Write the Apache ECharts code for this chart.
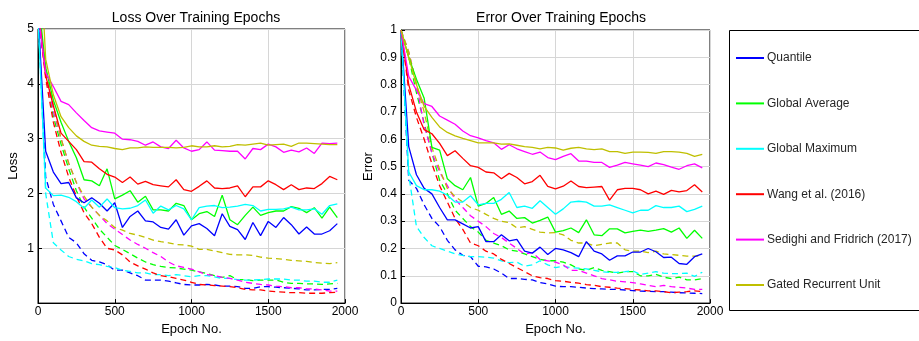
<!DOCTYPE html>
<html>
<head>
<meta charset="utf-8">
<script src="https://cdn.jsdelivr.net/npm/echarts@6/dist/echarts.min.js"></script>
<style>html,body{margin:0;padding:0;background:#fff}#c{width:919px;height:341px}</style>
</head>
<body>
<div id="c"></div>
<script>
const epochs = [0,50,100,150,200,250,300,350,400,450,500,550,600,650,700,750,800,850,900,950,1000,1050,1100,1150,1200,1250,1300,1350,1400,1450,1500,1550,1600,1650,1700,1750,1800,1850,1900,1950];
const names = ['Quantile','Global Average','Global Maximum','Wang et al. (2016)','Sedighi and Fridrich (2017)','Gated Recurrent Unit'];
const colors = ['#0000ff','#00ff00','#00ffff','#ff0000','#ff00ff','#bfbf00'];

// Loss - validation (solid)
const lossQuantileVal = [5.3,2.77,2.39,2.18,2.2,1.92,1.83,1.92,1.82,1.68,1.83,1.38,1.58,1.68,1.5,1.48,1.38,1.35,1.52,1.24,1.41,1.45,1.36,1.23,1.63,1.4,1.34,1.16,1.47,1.23,1.49,1.38,1.56,1.43,1.26,1.39,1.26,1.26,1.32,1.45];
const lossGlobalAvgVal = [5.6,4.3,3.7,3.3,2.95,2.65,2.25,2.23,2.14,2.45,1.9,1.97,2.05,1.84,1.95,1.7,1.7,1.68,1.82,1.78,1.52,1.63,1.67,1.58,1.97,1.52,1.43,1.6,1.75,1.6,1.65,1.68,1.68,1.76,1.73,1.65,1.74,1.55,1.75,1.56];
const lossGlobalMaxVal = [5.2,2.1,1.96,1.97,1.93,1.85,1.73,1.88,1.75,1.9,1.74,1.72,1.73,1.78,1.88,1.64,1.77,1.7,1.78,1.72,1.52,1.74,1.77,1.78,1.74,1.75,1.77,1.8,1.78,1.68,1.71,1.71,1.72,1.75,1.7,1.7,1.72,1.62,1.78,1.81];
const lossWangVal = [5.4,4.15,3.6,3.1,2.95,2.8,2.58,2.57,2.45,2.35,2.3,2.2,2.3,2.17,2.22,2.16,2.14,2.12,2.25,2.07,2.04,2.13,2.23,2.1,2.09,2.1,2.14,1.94,2.12,2.12,2.23,2.16,2.07,2.16,2.07,2.1,2.09,2.18,2.31,2.25];
const lossSedighiVal = [5.3,4.2,3.95,3.68,3.62,3.47,3.33,3.2,3.14,3.12,3.1,2.99,2.98,2.95,2.88,2.94,2.85,2.82,2.97,2.83,2.77,2.8,2.94,2.79,2.78,2.77,2.77,2.63,2.82,2.8,2.9,2.85,2.75,2.79,2.76,2.83,2.73,2.92,2.91,2.92];
const lossGruVal = [7.2,4.45,3.8,3.4,3.2,3.05,2.95,2.88,2.86,2.85,2.82,2.8,2.83,2.83,2.85,2.84,2.84,2.84,2.83,2.84,2.87,2.85,2.85,2.87,2.85,2.86,2.89,2.88,2.9,2.92,2.88,2.89,2.9,2.86,2.92,2.92,2.91,2.9,2.89,2.89];

// Loss - training (dashed)
const lossQuantileTrain = [5.3,2.3,1.8,1.5,1.2,1.1,0.9,0.78,0.75,0.7,0.6,0.6,0.55,0.5,0.42,0.42,0.42,0.4,0.37,0.34,0.33,0.33,0.34,0.33,0.31,0.31,0.3,0.27,0.27,0.3,0.3,0.29,0.28,0.27,0.26,0.24,0.24,0.25,0.25,0.27];
const lossGlobalAvgTrain = [5.3,4.2,3.4,2.9,2.45,2.05,1.75,1.55,1.35,1.2,1.05,0.98,0.9,0.82,0.75,0.7,0.67,0.65,0.64,0.62,0.6,0.57,0.54,0.5,0.47,0.5,0.43,0.43,0.41,0.42,0.42,0.42,0.38,0.36,0.36,0.35,0.35,0.34,0.35,0.36];
const lossGlobalMaxTrain = [5.3,2.0,1.1,0.97,0.85,0.8,0.77,0.72,0.7,0.67,0.65,0.6,0.58,0.55,0.55,0.52,0.52,0.5,0.52,0.5,0.48,0.5,0.5,0.48,0.45,0.45,0.43,0.42,0.42,0.43,0.44,0.44,0.44,0.42,0.42,0.4,0.4,0.38,0.38,0.42];
const lossWangTrain = [5.3,4.1,3.3,2.75,2.3,1.95,1.65,1.45,1.2,1.0,0.97,0.88,0.75,0.68,0.62,0.55,0.5,0.48,0.45,0.42,0.38,0.34,0.33,0.32,0.31,0.3,0.28,0.25,0.24,0.24,0.22,0.21,0.2,0.19,0.19,0.18,0.18,0.18,0.19,0.2];
const lossSedighiTrain = [5.3,4.2,3.5,3.0,2.55,2.2,1.9,1.75,1.6,1.45,1.35,1.25,1.15,1.07,1.0,0.92,0.85,0.75,0.68,0.65,0.62,0.57,0.52,0.5,0.47,0.45,0.42,0.38,0.36,0.34,0.33,0.31,0.3,0.28,0.28,0.26,0.26,0.24,0.22,0.22];
const lossGruTrain = [5.3,4.3,3.6,3.0,2.55,2.2,1.95,1.75,1.6,1.5,1.38,1.33,1.27,1.24,1.2,1.15,1.12,1.1,1.07,1.06,1.04,0.98,0.98,0.95,0.92,0.89,0.88,0.88,0.87,0.84,0.82,0.81,0.8,0.78,0.77,0.76,0.74,0.73,0.72,0.74];

// Error - validation (solid)
const errQuantileVal = [1.0,0.573,0.47,0.42,0.4,0.35,0.305,0.305,0.29,0.275,0.28,0.225,0.225,0.25,0.228,0.233,0.19,0.183,0.205,0.178,0.2,0.195,0.185,0.17,0.225,0.19,0.18,0.157,0.173,0.173,0.187,0.187,0.2,0.188,0.167,0.168,0.145,0.142,0.17,0.18];
const errGlobalAvgVal = [1.0,0.9,0.82,0.75,0.57,0.56,0.455,0.43,0.415,0.46,0.355,0.365,0.387,0.325,0.337,0.31,0.313,0.293,0.303,0.315,0.26,0.265,0.275,0.258,0.305,0.25,0.247,0.272,0.272,0.257,0.263,0.267,0.263,0.267,0.273,0.26,0.275,0.237,0.267,0.237];
const errGlobalMaxVal = [1.0,0.48,0.43,0.415,0.415,0.41,0.395,0.37,0.37,0.393,0.36,0.365,0.365,0.38,0.405,0.35,0.355,0.347,0.375,0.35,0.325,0.345,0.37,0.373,0.37,0.355,0.355,0.36,0.35,0.34,0.33,0.34,0.34,0.357,0.35,0.35,0.355,0.335,0.343,0.355];
const errWangVal = [1.0,0.8,0.7,0.635,0.62,0.585,0.54,0.558,0.53,0.503,0.497,0.48,0.477,0.455,0.475,0.46,0.437,0.445,0.468,0.427,0.418,0.428,0.447,0.427,0.423,0.425,0.427,0.377,0.415,0.42,0.42,0.415,0.4,0.41,0.398,0.413,0.407,0.412,0.433,0.407];
const errSedighiVal = [1.0,0.83,0.78,0.73,0.72,0.685,0.67,0.655,0.63,0.613,0.605,0.595,0.587,0.563,0.58,0.565,0.555,0.545,0.553,0.533,0.525,0.537,0.547,0.52,0.52,0.515,0.515,0.497,0.505,0.515,0.51,0.505,0.5,0.513,0.507,0.498,0.49,0.503,0.51,0.495];
const errGruVal = [1.0,0.9,0.8,0.72,0.68,0.645,0.625,0.612,0.603,0.595,0.587,0.587,0.587,0.582,0.583,0.578,0.573,0.57,0.565,0.57,0.568,0.56,0.567,0.57,0.565,0.562,0.565,0.555,0.555,0.548,0.553,0.553,0.552,0.548,0.555,0.555,0.553,0.548,0.537,0.545];

// Error - training (dashed)
const errQuantileTrain = [1.0,0.45,0.42,0.36,0.31,0.28,0.23,0.195,0.175,0.17,0.135,0.133,0.125,0.11,0.09,0.09,0.087,0.085,0.075,0.07,0.062,0.06,0.06,0.058,0.055,0.053,0.052,0.05,0.05,0.048,0.046,0.044,0.043,0.042,0.042,0.04,0.038,0.037,0.036,0.035];
const errGlobalAvgTrain = [1.0,0.9,0.77,0.66,0.55,0.45,0.4,0.34,0.31,0.28,0.26,0.23,0.22,0.21,0.195,0.19,0.18,0.17,0.16,0.155,0.155,0.15,0.14,0.125,0.12,0.13,0.12,0.115,0.11,0.115,0.115,0.1,0.1,0.105,0.095,0.09,0.095,0.085,0.085,0.09];
const errGlobalMaxTrain = [1.0,0.47,0.28,0.24,0.21,0.2,0.19,0.18,0.175,0.17,0.17,0.168,0.165,0.155,0.148,0.15,0.135,0.14,0.155,0.14,0.13,0.135,0.13,0.128,0.125,0.12,0.115,0.112,0.113,0.115,0.118,0.105,0.11,0.115,0.11,0.108,0.108,0.11,0.098,0.113];
const errWangTrain = [1.0,0.78,0.68,0.6,0.51,0.43,0.37,0.31,0.27,0.22,0.21,0.19,0.18,0.16,0.145,0.13,0.115,0.1,0.093,0.09,0.082,0.08,0.076,0.073,0.068,0.065,0.06,0.058,0.055,0.053,0.05,0.048,0.045,0.045,0.042,0.038,0.04,0.042,0.045,0.042];
const errSedighiTrain = [1.0,0.92,0.8,0.65,0.55,0.48,0.43,0.38,0.35,0.32,0.3,0.28,0.255,0.24,0.22,0.2,0.18,0.185,0.16,0.155,0.15,0.14,0.12,0.12,0.11,0.1,0.09,0.085,0.08,0.078,0.075,0.07,0.065,0.06,0.065,0.06,0.058,0.055,0.05,0.05];
const errGruTrain = [1.0,0.92,0.8,0.7,0.57,0.49,0.42,0.39,0.37,0.35,0.34,0.325,0.31,0.3,0.295,0.275,0.28,0.27,0.26,0.257,0.258,0.25,0.23,0.22,0.22,0.21,0.215,0.22,0.22,0.195,0.19,0.19,0.185,0.19,0.18,0.178,0.175,0.172,0.172,0.172];

const lossVal = [lossQuantileVal,lossGlobalAvgVal,lossGlobalMaxVal,lossWangVal,lossSedighiVal,lossGruVal];
const lossTrain = [lossQuantileTrain,lossGlobalAvgTrain,lossGlobalMaxTrain,lossWangTrain,lossSedighiTrain,lossGruTrain];
const errVal = [errQuantileVal,errGlobalAvgVal,errGlobalMaxVal,errWangVal,errSedighiVal,errGruVal];
const errTrain = [errQuantileTrain,errGlobalAvgTrain,errGlobalMaxTrain,errWangTrain,errSedighiTrain,errGruTrain];

const FONT = 'Liberation Sans, Arial, sans-serif';
const chart = echarts.init(document.getElementById('c'), null, {renderer:'canvas'});

function mk(vals, i, gi, dashed){
  return {
    name: names[i], type:'line', xAxisIndex: gi, yAxisIndex: gi,
    data: epochs.map((e,k)=>[e, vals[k]]),
    showSymbol:false, symbol:'none', clip:true, silent:true,
    lineStyle:{color:colors[i], width:1.3, type: dashed ? [6,4] : 'solid'},
    itemStyle:{color:colors[i]},
    z: dashed ? 2 : 3
  };
}
const series = [];
for (let i=0;i<6;i++){ series.push(mk(lossTrain[i],i,0,true)); }
for (let i=0;i<6;i++){ series.push(mk(errTrain[i],i,1,true)); }
for (let i=0;i<6;i++){ series.push(mk(lossVal[i],i,0,false)); }
for (let i=0;i<6;i++){ series.push(mk(errVal[i],i,1,false)); }

function xAxis(gi){
  return {
    type:'value', gridIndex:gi, min:0, max:2000, interval:500,
    name:'Epoch No.', nameLocation:'middle', nameGap:17,
    nameTextStyle:{fontFamily:FONT, fontSize:13, color:'#000'},
    axisLine:{show:true, lineStyle:{color:'#000', width:1}},
    axisTick:{show:true, inside:true, length:4, lineStyle:{color:'#000'}},
    axisLabel:{fontFamily:FONT, fontSize:12, color:'#000', margin:3, formatter: v => String(v)},
    splitLine:{show:true, lineStyle:{color:'#d6d6d6', width:1}}
  };
}
function yAxis(gi, max, interval, name, gap, fmt){
  return {
    type:'value', gridIndex:gi, min:0, max:max, interval:interval,
    name:name, nameLocation:'middle', nameGap:gap, nameRotate:90,
    nameTextStyle:{fontFamily:FONT, fontSize:13, color:'#000'},
    axisLine:{show:true, onZero:false, lineStyle:{color:'#000', width:1}},
    axisTick:{show:true, inside:true, length:4, lineStyle:{color:'#000'}},
    axisLabel:{fontFamily:FONT, fontSize:12, color:'#000', margin:4, formatter:fmt},
    splitLine:{show:true, lineStyle:{color:'#d6d6d6', width:1}}
  };
}

chart.setOption({
  animation:false,
  backgroundColor:'#fff',
  title:[
    {text:'Loss Over Training Epochs', left:191, top:6, textAlign:'center',
     textStyle:{fontFamily:FONT, fontSize:14, fontWeight:'normal', color:'#000'}},
    {text:'Error Over Training Epochs', left:556, top:6, textAlign:'center',
     textStyle:{fontFamily:FONT, fontSize:14, fontWeight:'normal', color:'#000'}}
  ],
  grid:[
    {left:38, top:29, width:307, height:282, show:true, borderColor:'#000', borderWidth:1, backgroundColor:'transparent'},
    {left:401, top:30, width:309, height:281, show:true, borderColor:'#000', borderWidth:1, backgroundColor:'transparent'}
  ],
  xAxis:[xAxis(0), xAxis(1)],
  yAxis:[
    yAxis(0, 5, 1, 'Loss', 18, v => v===0 ? '' : String(v)),
    yAxis(1, 1, 0.1, 'Error', 26, v => String(Math.round(v*10)/10))
  ],
  legend:{
    data: names.map((n,i)=>({name:n, icon:'rect', itemStyle:{color:colors[i]}})),
    orient:'vertical', left:736, top:51, padding:0,
    itemWidth:28, itemHeight:2, itemGap:31.4,
    selectedMode:false,
    textStyle:{fontFamily:FONT, fontSize:12, color:'#262626', lineHeight:14, padding:[0,0,0,-2]}
  },
  graphic:[
    {type:'rect', shape:{x:729.5, y:30.5, width:200, height:280}, style:{fill:'none', stroke:'#000', lineWidth:1}, silent:true}
  ],
  series: series
});
</script>
</body>
</html>
